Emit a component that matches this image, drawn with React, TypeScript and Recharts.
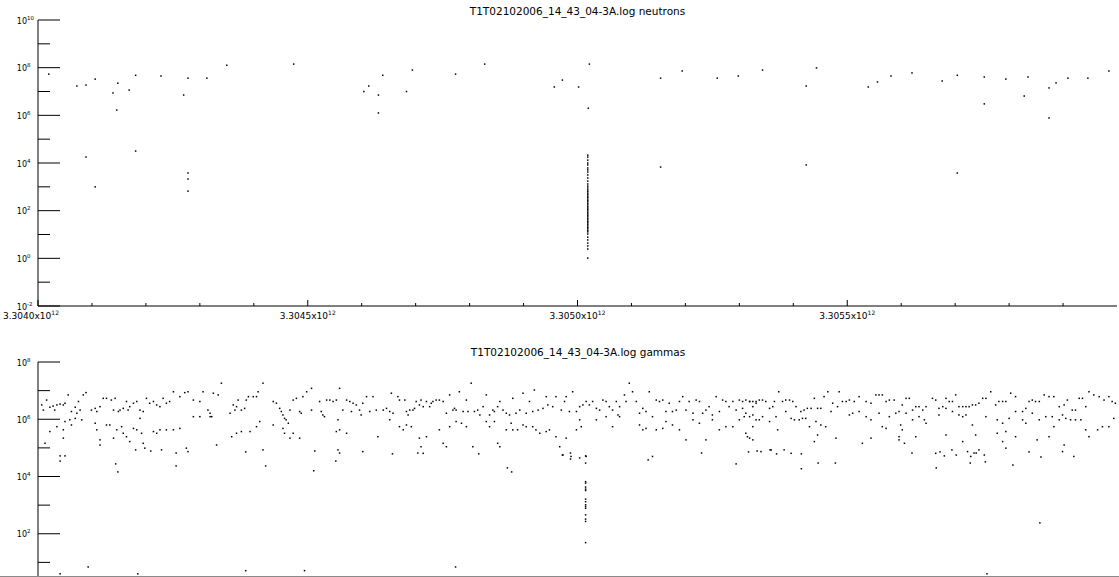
import React from "react";
import { ScatterChart, Scatter, XAxis, YAxis } from "recharts";

// time in units of 10^9, value as log10(counts)
const neutronPoints: [number, number][] = [
  [3304.020, 7.73], [3304.072, 7.23], [3304.089, 7.27], [3304.106, 7.52], [3304.139, 6.94], [3304.146, 6.22],
  [3304.148, 7.35], [3304.169, 7.06], [3304.181, 7.68], [3304.228, 7.65], [3304.270, 6.85], [3304.278, 7.56],
  [3304.313, 7.56], [3304.350, 8.10], [3304.474, 8.15], [3304.604, 7.00], [3304.613, 7.23], [3304.631, 6.85],
  [3304.631, 6.10], [3304.639, 7.68], [3304.694, 7.90], [3304.683, 7.00], [3304.774, 7.73], [3304.828, 8.15],
  [3304.957, 7.19], [3304.972, 7.48], [3305.002, 7.19], [3305.022, 8.15], [3305.020, 6.30], [3305.154, 7.56],
  [3305.194, 7.86], [3305.259, 7.56], [3305.298, 7.65], [3305.343, 7.90], [3305.443, 7.99], [3305.424, 7.23],
  [3305.539, 7.19], [3305.556, 7.40], [3305.581, 7.65], [3305.620, 7.78], [3305.676, 7.44], [3305.704, 7.68],
  [3305.754, 7.61], [3305.754, 6.48], [3305.794, 7.52], [3305.835, 7.61], [3305.828, 6.81], [3305.874, 7.15],
  [3305.887, 7.36], [3305.909, 7.56], [3305.946, 7.56], [3305.985, 7.86], [3305.874, 5.89],
  [3304.089, 4.25], [3304.106, 3.00], [3304.181, 4.50], [3304.278, 3.58], [3304.278, 3.33], [3304.278, 2.82],
  [3305.154, 3.83], [3305.424, 3.92], [3305.704, 3.58],
];

// burst of readings at one instant
const neutronSpikeTime = 3305.019;
const neutronSpike = [
  4.33, 4.25, 4.12, 4.0, 3.92, 3.79, 3.71, 3.62, 3.5, 3.37, 3.24, 3.12, 3.03, 2.95, 2.87, 2.81, 2.74, 2.68,
  2.61, 2.56, 2.49, 2.43, 2.37, 2.3, 2.24, 2.17, 2.11, 2.05, 1.99, 1.92, 1.86, 1.8, 1.74, 1.67, 1.61, 1.55,
  1.49, 1.43, 1.36, 1.3, 1.24, 1.17, 1.11, 1.02, 0.89, 0.77, 0.64, 0.52, 0.39, 0.01,
];

const gammaPoints: [number, number][] = [
  [3304.010, 6.32], [3304.007, 6.50], [3304.016, 6.67], [3304.022, 6.42], [3304.028, 6.46], [3304.031, 6.32],
  [3304.035, 6.50], [3304.041, 6.53], [3304.047, 6.50], [3304.050, 6.56], [3304.056, 6.85], [3304.059, 5.98],
  [3304.062, 6.27], [3304.069, 6.42], [3304.072, 6.21], [3304.075, 6.62], [3304.078, 6.32], [3304.084, 6.85],
  [3304.089, 6.93], [3304.022, 5.57], [3304.035, 5.74], [3304.047, 5.63], [3304.050, 5.92], [3304.047, 5.34],
  [3304.050, 4.72], [3304.013, 5.16], [3304.062, 5.80], [3304.069, 6.03], [3304.081, 5.98], [3304.099, 6.32],
  [3304.106, 6.38], [3304.109, 6.27], [3304.115, 6.44], [3304.121, 6.73], [3304.127, 6.73], [3304.136, 6.67],
  [3304.143, 6.73], [3304.140, 6.32], [3304.149, 6.27], [3304.152, 6.32], [3304.158, 6.38], [3304.164, 6.62],
  [3304.167, 6.32], [3304.170, 6.44], [3304.177, 6.56], [3304.183, 6.62], [3304.189, 6.32], [3304.195, 6.27],
  [3304.201, 6.73], [3304.207, 6.56], [3304.214, 6.62], [3304.220, 6.50], [3304.226, 6.44], [3304.232, 6.73],
  [3304.238, 6.56], [3304.244, 6.62], [3304.251, 6.96], [3304.263, 6.79], [3304.272, 6.93], [3304.278, 6.96],
  [3304.288, 6.67], [3304.300, 6.62], [3304.306, 6.96], [3304.315, 6.32], [3304.319, 6.21], [3304.322, 6.09],
  [3304.325, 6.91], [3304.334, 6.85], [3304.340, 7.26], [3304.106, 5.86], [3304.109, 5.63], [3304.115, 5.28],
  [3304.115, 5.10], [3304.127, 5.80], [3304.133, 5.80], [3304.140, 5.34], [3304.146, 5.63], [3304.155, 5.74],
  [3304.158, 5.51], [3304.164, 5.39], [3304.170, 5.22], [3304.177, 5.68], [3304.183, 5.63], [3304.189, 6.03],
  [3304.192, 5.51], [3304.195, 5.16], [3304.198, 4.99], [3304.214, 5.57], [3304.220, 5.51], [3304.226, 5.63],
  [3304.229, 4.93], [3304.238, 5.63], [3304.251, 5.63], [3304.263, 5.68], [3304.275, 4.99], [3304.278, 4.87],
  [3304.288, 6.09], [3304.300, 6.09], [3304.319, 6.09], [3304.331, 5.10], [3304.356, 6.21], [3304.362, 6.50],
  [3304.365, 6.32], [3304.368, 6.44], [3304.371, 6.67], [3304.377, 6.32], [3304.383, 6.38], [3304.386, 6.67],
  [3304.390, 6.79], [3304.399, 6.79], [3304.405, 6.79], [3304.408, 6.96], [3304.417, 7.26], [3304.411, 5.92],
  [3304.405, 5.74], [3304.359, 5.39], [3304.368, 5.51], [3304.377, 5.57], [3304.393, 5.57], [3304.417, 4.93],
  [3304.436, 6.62], [3304.442, 6.56], [3304.448, 6.38], [3304.451, 6.27], [3304.454, 6.15], [3304.457, 6.03],
  [3304.460, 5.98], [3304.464, 5.86], [3304.467, 6.32], [3304.473, 6.67], [3304.479, 6.73], [3304.485, 6.27],
  [3304.488, 6.21], [3304.491, 6.79], [3304.498, 6.96], [3304.507, 7.08], [3304.436, 5.80], [3304.454, 5.68],
  [3304.457, 5.51], [3304.467, 5.34], [3304.473, 5.51], [3304.485, 5.34], [3304.507, 6.32], [3304.522, 6.62],
  [3304.525, 6.27], [3304.528, 6.15], [3304.531, 6.09], [3304.535, 6.67], [3304.541, 6.67], [3304.547, 6.62],
  [3304.553, 6.67], [3304.556, 5.98], [3304.559, 7.08], [3304.565, 6.32], [3304.572, 6.67], [3304.578, 6.62],
  [3304.581, 6.27], [3304.584, 6.56], [3304.590, 6.50], [3304.596, 6.32], [3304.599, 6.15], [3304.602, 6.56],
  [3304.609, 6.79], [3304.615, 6.27], [3304.621, 6.79], [3304.627, 6.32], [3304.553, 5.57], [3304.559, 5.63],
  [3304.572, 5.51], [3304.556, 4.93], [3304.602, 4.87], [3304.630, 5.39],
  [3304.640, 6.32], [3304.646, 6.38], [3304.652, 6.27], [3304.655, 6.91], [3304.658, 6.21], [3304.667, 6.79],
  [3304.670, 6.67], [3304.680, 6.67], [3304.683, 6.27], [3304.686, 6.15], [3304.689, 6.32], [3304.695, 6.32],
  [3304.698, 6.38], [3304.701, 6.62], [3304.707, 6.50], [3304.710, 6.67], [3304.714, 6.44], [3304.720, 6.62],
  [3304.726, 6.44], [3304.729, 6.56], [3304.732, 6.62], [3304.738, 6.67], [3304.744, 6.67], [3304.751, 6.62],
  [3304.757, 6.21], [3304.763, 6.85], [3304.769, 6.32], [3304.772, 6.38], [3304.775, 6.32], [3304.781, 6.96],
  [3304.788, 6.27], [3304.794, 6.67], [3304.797, 6.27], [3304.803, 7.26], [3304.809, 6.27], [3304.815, 6.32],
  [3304.819, 6.15], [3304.825, 6.44], [3304.831, 6.85], [3304.837, 6.15], [3304.843, 6.32], [3304.846, 6.27],
  [3304.852, 6.44], [3304.856, 6.62], [3304.862, 6.32], [3304.868, 6.21], [3304.874, 6.15], [3304.880, 6.73],
  [3304.886, 6.21], [3304.893, 6.32], [3304.899, 6.91], [3304.905, 6.21], [3304.911, 6.62], [3304.917, 6.27],
  [3304.920, 7.02], [3304.927, 6.32], [3304.936, 6.38], [3304.942, 6.79], [3304.945, 6.50], [3304.954, 6.44],
  [3304.960, 6.79], [3304.970, 6.32], [3304.976, 6.62], [3304.979, 6.79], [3304.985, 6.27], [3304.991, 6.96],
  [3304.998, 6.27], [3305.004, 6.44], [3305.010, 6.50], [3305.016, 6.62], [3305.022, 6.50], [3305.028, 6.62],
  [3305.035, 6.38], [3305.041, 6.32], [3305.047, 6.67], [3305.053, 6.62], [3305.059, 6.44], [3305.065, 6.32],
  [3305.072, 6.62], [3305.075, 6.15], [3305.078, 6.44], [3305.087, 6.85], [3305.090, 6.62], [3305.096, 7.26],
  [3305.102, 6.96], [3305.109, 6.62], [3305.115, 6.21], [3305.121, 6.38], [3305.127, 6.27], [3305.133, 6.96],
  [3305.139, 6.09], [3305.146, 6.67], [3305.152, 6.62], [3305.158, 6.67], [3305.164, 6.27], [3305.170, 6.56],
  [3305.176, 6.27], [3305.183, 6.32], [3305.189, 6.62], [3305.195, 6.79], [3305.201, 6.32], [3305.207, 6.62],
  [3305.214, 6.21], [3305.220, 6.67], [3305.226, 6.62], [3305.232, 6.21], [3305.238, 6.32], [3305.244, 6.44],
  [3305.250, 6.15], [3305.257, 6.79], [3305.263, 6.27], [3305.269, 6.67], [3305.275, 6.62], [3305.281, 6.44],
  [3305.288, 6.62], [3305.294, 6.32], [3305.300, 6.67], [3305.306, 6.38], [3305.312, 6.21], [3305.319, 6.62],
  [3305.325, 6.44], [3305.331, 6.56],
  [3304.652, 5.98], [3304.670, 5.74], [3304.677, 5.63], [3304.683, 5.80], [3304.692, 5.74], [3304.707, 5.34],
  [3304.710, 5.04], [3304.714, 4.81], [3304.720, 5.39], [3304.744, 5.63], [3304.751, 5.16], [3304.757, 5.04],
  [3304.763, 5.74], [3304.775, 5.92], [3304.785, 5.86], [3304.794, 5.74], [3304.806, 5.04], [3304.831, 5.92],
  [3304.837, 5.74], [3304.846, 5.92], [3304.852, 5.16], [3304.856, 5.04], [3304.868, 5.63], [3304.877, 5.86],
  [3304.880, 5.63], [3304.889, 5.63], [3304.899, 5.80], [3304.905, 5.74], [3304.917, 5.74], [3304.923, 5.63],
  [3304.930, 5.51], [3304.942, 5.57], [3304.948, 5.63], [3304.960, 5.39], [3304.967, 5.04], [3304.973, 4.75],
  [3304.979, 5.34], [3304.988, 4.70], [3304.998, 5.63], [3305.004, 5.98], [3305.007, 5.74], [3305.016, 4.70],
  [3305.035, 5.98], [3305.053, 6.09], [3305.065, 5.74], [3305.078, 6.09], [3305.115, 5.80], [3305.121, 5.63],
  [3305.127, 5.68], [3305.139, 4.70], [3305.146, 5.63], [3305.158, 5.68], [3305.164, 5.92], [3305.176, 5.80],
  [3305.189, 5.63], [3305.201, 5.28], [3305.214, 5.98], [3305.226, 5.86], [3305.238, 5.28], [3305.250, 5.98],
  [3305.263, 5.63], [3305.275, 5.74], [3305.288, 5.74], [3305.300, 5.98], [3305.312, 5.51], [3305.319, 5.34],
  [3305.325, 5.74], [3305.331, 5.98],
  [3305.306, 6.62], [3305.312, 6.67], [3305.319, 6.62], [3305.325, 6.62], [3305.331, 6.62], [3305.337, 6.67],
  [3305.343, 6.67], [3305.349, 6.62], [3305.356, 6.38], [3305.362, 6.44], [3305.365, 6.62], [3305.373, 6.96],
  [3305.380, 6.62], [3305.386, 6.67], [3305.393, 6.67], [3305.399, 6.62], [3305.405, 6.44], [3305.414, 6.27],
  [3305.420, 6.32], [3305.426, 6.38], [3305.433, 6.38], [3305.439, 6.73], [3305.445, 6.38], [3305.451, 6.38],
  [3305.457, 6.79], [3305.464, 6.96], [3305.473, 6.56], [3305.482, 6.44], [3305.485, 6.96], [3305.491, 6.62],
  [3305.498, 6.62], [3305.504, 6.67], [3305.513, 6.62], [3305.522, 6.79], [3305.535, 6.62], [3305.544, 6.56],
  [3305.553, 6.85], [3305.559, 6.85], [3305.565, 6.85], [3305.572, 6.62], [3305.578, 6.67], [3305.587, 6.67],
  [3305.596, 6.27], [3305.602, 6.50], [3305.609, 6.73], [3305.615, 6.73], [3305.621, 6.32], [3305.627, 6.44],
  [3305.633, 6.44], [3305.640, 6.32], [3305.646, 6.44], [3305.658, 6.73], [3305.664, 6.67], [3305.670, 6.38],
  [3305.677, 6.44], [3305.683, 6.73], [3305.689, 6.62], [3305.695, 6.62], [3305.701, 6.85], [3305.707, 6.44],
  [3305.714, 6.44], [3305.720, 6.44], [3305.726, 6.44], [3305.732, 6.50], [3305.738, 6.50], [3305.744, 6.56],
  [3305.751, 6.73], [3305.757, 6.73], [3305.766, 6.96], [3305.775, 6.50], [3305.781, 6.62], [3305.788, 6.62],
  [3305.794, 6.62], [3305.803, 6.91], [3305.812, 6.79], [3305.825, 6.27], [3305.831, 6.38], [3305.837, 6.62],
  [3305.843, 6.67], [3305.849, 6.62], [3305.856, 6.62], [3305.865, 6.85], [3305.874, 6.79], [3305.883, 6.79],
  [3305.893, 6.44], [3305.902, 6.50], [3305.908, 6.67], [3305.917, 6.32], [3305.923, 6.32], [3305.930, 6.73],
  [3305.936, 6.73], [3305.942, 6.44], [3305.948, 6.96], [3305.957, 6.85], [3305.967, 6.79], [3305.976, 6.67],
  [3305.985, 6.79], [3305.991, 6.62], [3305.997, 6.56],
  [3305.309, 6.09], [3305.319, 6.09], [3305.325, 6.15], [3305.337, 5.98], [3305.343, 6.09], [3305.356, 5.92],
  [3305.368, 6.09], [3305.371, 5.63], [3305.386, 6.27], [3305.396, 6.03], [3305.402, 5.98], [3305.411, 5.98],
  [3305.417, 6.03], [3305.423, 6.03], [3305.430, 5.74], [3305.442, 5.92], [3305.451, 5.80], [3305.460, 5.74],
  [3305.470, 6.27], [3305.479, 5.34], [3305.504, 6.15], [3305.510, 6.21], [3305.522, 6.27], [3305.535, 6.09],
  [3305.544, 5.98], [3305.559, 6.21], [3305.565, 5.74], [3305.572, 5.68], [3305.578, 6.09], [3305.590, 6.21],
  [3305.599, 5.80], [3305.602, 5.63], [3305.606, 5.16], [3305.596, 5.39], [3305.609, 6.21], [3305.621, 5.98],
  [3305.633, 6.09], [3305.643, 5.98], [3305.646, 5.86], [3305.670, 6.15], [3305.683, 6.38], [3305.695, 6.27],
  [3305.707, 6.15], [3305.714, 6.09], [3305.720, 6.15], [3305.732, 5.80], [3305.738, 5.45], [3305.757, 6.09],
  [3305.778, 5.98], [3305.788, 5.86], [3305.794, 5.57], [3305.800, 6.03], [3305.812, 6.27], [3305.825, 5.98],
  [3305.831, 5.86], [3305.843, 6.21], [3305.856, 5.98], [3305.868, 6.09], [3305.880, 6.09], [3305.883, 5.74],
  [3305.893, 5.98], [3305.899, 6.15], [3305.905, 6.03], [3305.914, 5.98], [3305.923, 5.98], [3305.933, 5.98],
  [3305.942, 5.63], [3305.964, 5.63], [3305.973, 5.74], [3305.985, 5.74], [3305.994, 6.03],
  [3305.315, 5.39], [3305.325, 5.28], [3305.340, 4.87], [3305.359, 4.93], [3305.383, 4.93], [3305.396, 4.81],
  [3305.439, 5.22], [3305.445, 5.45], [3305.528, 5.16], [3305.544, 5.34], [3305.596, 5.28], [3305.627, 5.39],
  [3305.664, 4.81], [3305.683, 5.45], [3305.714, 5.22], [3305.723, 4.87], [3305.729, 4.70], [3305.744, 4.93],
  [3305.754, 4.75], [3305.778, 5.51], [3305.788, 5.22], [3305.794, 4.99], [3305.812, 5.39], [3305.852, 5.28],
  [3305.874, 5.39], [3305.902, 5.10], [3305.899, 4.87], [3305.920, 4.70], [3305.948, 5.39],
  // sparse low readings
  [3304.041, 4.72], [3304.041, 4.54], [3304.144, 4.44], [3304.148, 4.16], [3304.181, 4.93], [3304.209, 4.89],
  [3304.256, 4.82], [3304.256, 4.37], [3304.385, 4.86], [3304.422, 4.37], [3304.513, 4.89], [3304.511, 4.20],
  [3304.559, 4.82], [3304.552, 4.54], [3304.657, 4.79], [3304.704, 4.82], [3304.817, 4.79], [3304.870, 4.30],
  [3304.878, 4.16], [3304.972, 4.75], [3304.987, 4.82], [3304.987, 4.61], [3305.004, 4.65], [3305.015, 4.72],
  [3305.015, 4.47], [3305.131, 4.58], [3305.230, 4.82], [3305.294, 4.44], [3305.317, 4.86], [3305.333, 4.89],
  [3305.357, 4.93], [3305.369, 4.79], [3305.415, 4.79], [3305.415, 4.27], [3305.446, 4.47], [3305.478, 4.47],
  [3305.620, 4.82], [3305.665, 4.30], [3305.672, 4.86], [3305.680, 4.72], [3305.694, 4.93], [3305.702, 4.75],
  [3305.728, 4.47], [3305.735, 4.82], [3305.739, 4.82], [3305.756, 4.51], [3305.807, 4.40], [3305.837, 4.86],
  [3305.859, 4.68], [3305.857, 2.38],
  [3304.093, 0.84], [3304.041, 0.60], [3304.185, 0.60], [3304.385, 0.71], [3304.494, 0.71], [3304.774, 0.84],
  [3305.759, 0.60],
];

const gammaSpikeTime = 3305.015;
const gammaSpike = [3.82, 3.77, 3.63, 3.56, 3.51, 3.21, 3.12, 3.01, 2.95, 2.89, 2.66, 2.51, 2.43, 1.69];

const xTicks = [
  3304.0, 3304.1, 3304.2, 3304.3, 3304.4, 3304.5, 3304.6, 3304.7, 3304.8, 3304.9,
  3305.0, 3305.1, 3305.2, 3305.3, 3305.4, 3305.5, 3305.6, 3305.7, 3305.8, 3305.9,
];
const neutronYTicks = [1e-2, 1e-1, 1, 1e1, 1e2, 1e3, 1e4, 1e5, 1e6, 1e7, 1e8, 1e9, 1e10];
const gammaYTicks = [1e1, 1e2, 1e3, 1e4, 1e5, 1e6, 1e7, 1e8];

const FONT = "DejaVu Sans, sans-serif";

const toRows = (pts: [number, number][], spikeT: number, spike: number[]) => [
  ...pts.map(([t, e]) => ({ t, v: 10 ** e })),
  ...spike.map((e) => ({ t: spikeT, v: 10 ** e })),
];

const neutronData = toRows(neutronPoints, neutronSpikeTime, neutronSpike);
const gammaData = toRows(gammaPoints, gammaSpikeTime, gammaSpike);

const isMajorX = (t: number) => Math.abs(t * 2 - Math.round(t * 2)) < 1e-6;
const expOf = (v: number) => Math.round(Math.log10(v));

const Dot = (p: any) => <rect x={p.cx - 0.75} y={p.cy - 0.75} width={1.5} height={1.5} fill="#000" />;

function BottomTick(props: any) {
  const { x, y, payload, index, showLabels } = props;
  const major = isMajorX(payload.value);
  const lx = index === 0 ? x - 7 : x;
  return (
    <g>
      <line x1={x} x2={x} y1={y} y2={y - (major ? 6 : 3)} stroke="#000" />
      {major && showLabels && (
        <text x={lx} y={y + 12.5} textAnchor="middle" fontSize={9} fontFamily={FONT} fill="#000">
          {(payload.value / 1000).toFixed(4)}x10
          <tspan fontSize={6} dy={-4}>12</tspan>
        </text>
      )}
    </g>
  );
}

function TopTick(props: any) {
  const { x, y, payload } = props;
  const major = isMajorX(payload.value);
  return <line x1={x} x2={x} y1={y} y2={y + (major ? 6 : 3)} stroke="#000" />;
}

function LeftTick(props: any) {
  const { x, y, payload } = props;
  const e = expOf(payload.value);
  const major = e % 2 === 0;
  return (
    <g>
      <line x1={x} x2={x + (major ? 22 : 12)} y1={y} y2={y} stroke="#000" />
      {major && (
        <>
          <text x={x - 11} y={y + 3.5} textAnchor="end" fontSize={8} fontFamily={FONT} fill="#000">10</text>
          <text x={x - 11} y={y - 0.5} textAnchor="start" fontSize={5.5} fontFamily={FONT} fill="#000">{e}</text>
        </>
      )}
    </g>
  );
}

function RightTick(props: any) {
  const { x, y, payload } = props;
  const major = expOf(payload.value) % 2 === 0;
  return <line x1={x} x2={x - (major ? 21 : 10)} y1={y} y2={y} stroke="#000" />;
}

function Panel({ data, height, top, yDomain, yTicks, showLabels }: any) {
  return (
    <ScatterChart width={1119} height={height} margin={{ top, right: 2, bottom: 0, left: 0 }}>
      <XAxis xAxisId="b" dataKey="t" type="number" domain={[3304, 3306]} ticks={xTicks} allowDataOverflow
        interval={0} height={24} tickSize={0} tickMargin={0} tickLine={false}
        axisLine={{ stroke: "#000" }} tick={<BottomTick showLabels={showLabels} />} />
      <XAxis xAxisId="tp" orientation="top" type="number" domain={[3304, 3306]} ticks={xTicks} allowDataOverflow
        interval={0} height={0} tickSize={0} tickMargin={0} tickLine={false}
        axisLine={{ stroke: "#000" }} tick={<TopTick />} />
      <YAxis yAxisId="l" dataKey="v" type="number" scale="log" domain={yDomain} ticks={yTicks} allowDataOverflow
        interval={0} width={38} tickSize={0} tickMargin={0} tickLine={false}
        axisLine={{ stroke: "#000" }} tick={<LeftTick />} />
      <YAxis yAxisId="r" orientation="right" type="number" scale="log" domain={yDomain} ticks={yTicks} allowDataOverflow
        interval={0} width={0} tickSize={0} tickMargin={0} tickLine={false}
        axisLine={{ stroke: "#8a8a8a", strokeWidth: 2 }} tick={<RightTick />} />
      <Scatter xAxisId="b" yAxisId="l" data={data} dataKey="v" shape={Dot} isAnimationActive={false} />
    </ScatterChart>
  );
}

export default function App() {
  return (
    <div style={{ position: "absolute", top: 0, left: 0, width: 1119, height: 577, overflow: "hidden", background: "#fff" }}>
      <svg width={1119} height={577} style={{ position: "absolute", top: 0, left: 0 }}>
        <text x={577.5} y={15} textAnchor="middle" fontSize={10.5} fontFamily={FONT} fill="#000">
          T1T02102006_14_43_04-3A.log neutrons
        </text>
        <text x={578} y={356} textAnchor="middle" fontSize={10.5} fontFamily={FONT} fill="#000">
          T1T02102006_14_43_04-3A.log gammas
        </text>
      </svg>
      <div style={{ position: "absolute", top: 0, left: 0 }}>
        <Panel data={neutronData} height={330} top={20} yDomain={[1e-2, 1e10]} yTicks={neutronYTicks} showLabels />
      </div>
      <div style={{ position: "absolute", top: 340, left: 0 }}>
        <Panel data={gammaData} height={275} top={22} yDomain={[1, 1e8]} yTicks={gammaYTicks} showLabels={false} />
      </div>
      <div style={{ position: "absolute", top: 576, left: 0, width: 1119, height: 1, background: "#8a8a8a" }} />
    </div>
  );
}
